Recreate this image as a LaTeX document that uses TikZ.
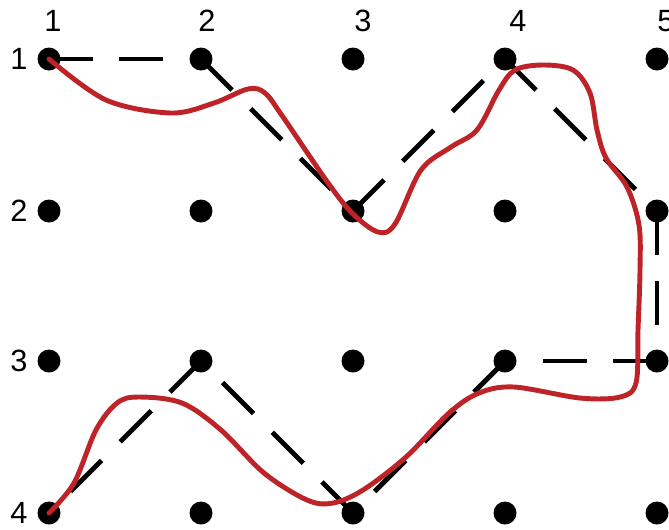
\documentclass[tikz,border=0pt]{standalone}
\usepackage{fontspec}
\setmainfont{Liberation Sans}
\usetikzlibrary{shapes.geometric}
\definecolor{curvered}{RGB}{190,35,40}

\begin{document}
\begin{tikzpicture}[
        x=0.02cm, y=-0.02cm,
        dot/.style={draw=none, fill=black, ellipse, inner sep=0pt,
                minimum width=0.46cm, minimum height=0.46cm},
        route/.style={line width=2.8pt, dash pattern=on 25pt off 15pt},
        freehand/.style={line width=2.8pt, curvered, line cap=round, line join=round},
        every node/.style={font=\fontsize{17.5}{20}\selectfont}
    ]
    \useasboundingbox (0,0) rectangle (669,529);

    \foreach \c/\x in {1/49, 2/201, 3/353, 4/505, 5/657}
        \foreach \r/\y in {1/59, 2/211, 3/361, 4/513}
            \node[dot] (d\c\r) at (\x,\y) {};

    \foreach \c/\x in {1/53, 2/207, 3/363, 4/518, 5/666}
        \node (col\c) at (\x,21) {\c};
    \foreach \r/\y in {1/59, 2/211, 3/361, 4/513}
        \node (row\r) at (19,\y) {\r};

    \foreach \a/\b in {11/21, 21/32, 32/41, 41/52, 52/53, 53/43, 43/34, 34/23, 23/14}
        \draw[route] (d\a.center) -- (d\b.center);

    \draw[freehand] plot[smooth, tension=0.55] coordinates {
        (d11.center) (106,100) (171,113) (214,103) (248,89) (265,93)
        (283,117) (326,180) (352,213) (378,232) (395,224) (421,170)
        (451,147) (477,130) (499,90) (515,70) (543,65) (573,70)
        (590,93) (597,130) (606,158) (627,187) (639,225) (640,270)
        (638,330) (636,383) (620,397) (580,398) (514,387) (479,393)
        (449,413) (406,457) (363,490) (333,503) (307,500) (264,473)
        (221,430) (182,403) (139,397) (117,403) (96,430) (74,483)
        (d14.center)};
\end{tikzpicture}
\end{document}
